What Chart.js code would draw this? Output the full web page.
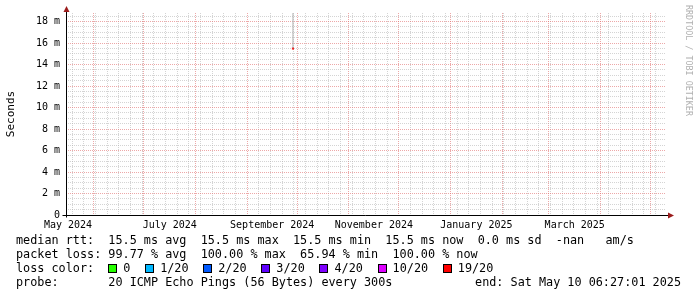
<!DOCTYPE html>
<html>
<head>
<meta charset="utf-8">
<script src="https://cdn.jsdelivr.net/npm/chart.js@4.4.1/dist/chart.umd.min.js"></script>
<style>
  html, body { margin: 0; padding: 0; background: #ffffff; }
  #c { display: block; }
</style>
</head>
<body>
<canvas id="c" width="697" height="297"></canvas>
<script>
// ---------------- data ----------------
const graphEndISO = '2025-05-10T06:27:01Z';
const spanDays = 360;
const monthLabels = ['May 2024', 'July 2024', 'September 2024', 'November 2024', 'January 2025', 'March 2025'];
const sampleTimes = ['2024-09-28T11:00:00Z'];
const medianRtt = [15.5];          // ms
const pingLow = [15.5];            // ms (smoke bottom)
const pingHigh = [18.8];           // ms (smoke top)
const sampleLoss = [19];           // lost pings of 20
const yMaxMs = 18.8;
const yLabelStep = 2;
const yMinorStep = 0.5;
const lossLabels = ['0', '1/20', '2/20', '3/20', '4/20', '10/20', '19/20'];
const lossThresholds = [0, 1, 2, 3, 4, 10, 19];
const lossColors = ['#26ff00', '#00b8ff', '#0059ff', '#5e00ff', '#7e00ff', '#dd00ff', '#ff0000'];
const rttLine = 'median rtt:  15.5 ms avg  15.5 ms max  15.5 ms min  15.5 ms now  0.0 ms sd  -nan   am/s';
const lossLine = 'packet loss: 99.77 % avg  100.00 % max  65.94 % min  100.00 % now';
const lossColorTitle = 'loss color:';
const probeLine = 'probe:       20 ICMP Echo Pings (56 Bytes) every 300s';
const endLine = 'end: Sat May 10 06:27:01 2025';
const yTitle = 'Seconds';
const watermark = 'RRDTOOL / TOBI OETIKER';

// ---------------- derived ----------------
const DAY = 86400000;
const endTime = Date.parse(graphEndISO);
const startTime = endTime - spanDays * DAY;
const MONTHS = ['January','February','March','April','May','June','July','August','September','October','November','December'];

const xTickMap = new Map();
function addTick(v, prop) {
  const o = xTickMap.get(v) || { value: v };
  Object.assign(o, prop);
  xTickMap.set(v, o);
}
// weekly minor grid (Sundays)
{
  const d = new Date(startTime);
  let s = Date.UTC(d.getUTCFullYear(), d.getUTCMonth(), d.getUTCDate());
  while (s <= startTime || new Date(s).getUTCDay() !== 0) s += DAY;
  for (; s < endTime; s += 7 * DAY) addTick(s, { grid: 'minor' });
}
// month major grid
{
  const d = new Date(startTime);
  let y = d.getUTCFullYear(), m = d.getUTCMonth() + 1;
  for (;;) {
    if (m > 11) { m = 0; y++; }
    const v = Date.UTC(y, m, 1);
    if (v >= endTime) break;
    addTick(v, { grid: 'major' });
    m++;
  }
}
// month labels centered in their month
monthLabels.forEach(lbl => {
  const parts = lbl.split(' ');
  const mi = MONTHS.indexOf(parts[0]);
  const yr = +parts[1];
  const a = Date.UTC(yr, mi, 1), b = Date.UTC(yr, mi + 1, 1);
  const v = (a + b) / 2;
  if (v > startTime && v < endTime) addTick(v, { label: lbl });
});
const xTicks = [...xTickMap.values()].sort((a, b) => a.value - b.value);

const yTicks = [];
for (let v = 0; v <= yMaxMs + 1e-9; v += yMinorStep) yTicks.push(Math.round(v * 100) / 100);

function lossColor(l) {
  let c = lossColors[0];
  lossThresholds.forEach((t, i) => { if (l >= t) c = lossColors[i]; });
  return c;
}

const smokeData = [];
sampleTimes.forEach((t, i) => {
  const x = Date.parse(t);
  smokeData.push({ x: x, y: pingLow[i] }, { x: x, y: pingHigh[i] }, { x: x, y: null });
});
const medianData = sampleTimes.map((t, i) => ({ x: Date.parse(t), y: medianRtt[i] }));
const medianColors = sampleLoss.map(lossColor);

const MAJOR_GRID = 'rgba(225, 110, 110, 0.6)';
const MINOR_GRID = 'rgba(170, 170, 170, 0.5)';
const MONO = '"DejaVu Sans Mono", "Liberation Mono", monospace';

// ---------------- decorations plugin ----------------
const rrdDecor = {
  id: 'rrdDecor',
  beforeDraw(chart) {
    const c = chart.ctx;
    c.save();
    c.fillStyle = '#ffffff';
    c.fillRect(0, 0, chart.width, chart.height);
    c.restore();
  },
  afterDraw(chart) {
    const c = chart.ctx;
    const a = chart.chartArea;
    c.save();
    // axes
    const ax = Math.round(a.left) + 0.5;
    const ay = Math.round(a.bottom) + 0.5;
    c.strokeStyle = '#000000';
    c.lineWidth = 1;
    c.beginPath();
    c.moveTo(ax, ay + 2);
    c.lineTo(ax, a.top - 3);
    c.moveTo(ax - 4, ay);
    c.lineTo(a.right + 3, ay);
    c.stroke();
    // arrows
    c.fillStyle = '#9b1c1c';
    c.beginPath();
    c.moveTo(ax - 3, a.top - 1);
    c.lineTo(ax + 3, a.top - 1);
    c.lineTo(ax, a.top - 7);
    c.closePath();
    c.fill();
    c.beginPath();
    c.moveTo(a.right + 2, ay - 3);
    c.lineTo(a.right + 2, ay + 3);
    c.lineTo(a.right + 8, ay);
    c.closePath();
    c.fill();

    // y title
    c.fillStyle = '#000000';
    c.font = '11px ' + MONO;
    c.textAlign = 'center';
    c.textBaseline = 'middle';
    c.save();
    c.translate(11, (a.top + a.bottom) / 2);
    c.rotate(-Math.PI / 2);
    c.fillText(yTitle, 0, 0);
    c.restore();

    // watermark
    c.save();
    c.fillStyle = '#b0b0b0';
    c.font = '8.4px ' + MONO;
    c.textAlign = 'left';
    c.textBaseline = 'middle';
    c.translate(688, 5);
    c.rotate(Math.PI / 2);
    c.fillText(watermark, 0, 0);
    c.restore();

    // legend
    c.font = '11.8px ' + MONO;
    c.fillStyle = '#000000';
    c.textAlign = 'left';
    c.textBaseline = 'middle';
    const lx = 16;
    const rows = [241, 255, 269, 283];
    const cw = c.measureText('0').width;
    c.fillText(rttLine, lx, rows[0]);
    c.fillText(lossLine, lx, rows[1]);
    c.fillText(lossColorTitle, lx, rows[2]);
    let bx = lx + 13 * cw;
    lossLabels.forEach((lbl, i) => {
      c.fillStyle = lossColors[i];
      c.fillRect(Math.round(bx), rows[2] - 5, 9, 9);
      c.strokeStyle = '#000000';
      c.strokeRect(Math.round(bx) + 0.5, rows[2] - 4.5, 8, 8);
      c.fillStyle = '#000000';
      c.fillText(lbl, bx + 15, rows[2]);
      bx += 15 + lbl.length * cw + 14.7;
    });
    c.fillText(probeLine, lx, rows[3]);
    c.textAlign = 'right';
    c.fillText(endLine, 681, rows[3]);
    c.restore();
  }
};

// ---------------- chart ----------------
new Chart(document.getElementById('c'), {
  type: 'scatter',
  data: {
    datasets: [
      {
        type: 'line',
        data: smokeData,
        borderColor: '#b0b0b0',
        borderWidth: 1,
        pointRadius: 0,
        spanGaps: false,
        fill: false
      },
      {
        type: 'scatter',
        data: medianData,
        pointStyle: 'rect',
        pointRadius: 1.5,
        backgroundColor: medianColors,
        borderWidth: 0
      }
    ]
  },
  options: {
    responsive: false,
    animation: false,
    devicePixelRatio: 1,
    layout: { padding: { left: 0, top: 13, right: 31, bottom: 0 } },
    plugins: { legend: { display: false }, tooltip: { enabled: false }, title: { display: false } },
    scales: {
      x: {
        type: 'linear',
        min: startTime,
        max: endTime,
        afterBuildTicks: sc => { sc.ticks = xTicks.map(t => ({ value: t.value })); },
        afterFit: sc => { sc.height = 82; },
        ticks: {
          autoSkip: false,
          maxRotation: 0,
          minRotation: 0,
          padding: 4,
          color: '#000000',
          font: { family: MONO, size: 10 },
          callback: v => (xTickMap.get(v) || {}).label || ''
        },
        grid: {
          drawTicks: false,
          lineWidth: 1,
          color: ctx => {
            const t = ctx.tick ? xTickMap.get(ctx.tick.value) : null;
            if (!t || !t.grid) return 'rgba(0,0,0,0)';
            return t.grid === 'major' ? MAJOR_GRID : MINOR_GRID;
          }
        },
        border: { display: false, dash: [1, 1] }
      },
      y: {
        type: 'linear',
        min: 0,
        max: yMaxMs,
        afterBuildTicks: sc => { sc.ticks = yTicks.map(v => ({ value: v })); },
        afterFit: sc => { sc.width = 66; },
        ticks: {
          autoSkip: false,
          padding: 6,
          color: '#000000',
          font: { family: MONO, size: 10 },
          callback: v => (Math.abs(v % yLabelStep) < 1e-9 ? (v === 0 ? '0' : v + ' m') : '')
        },
        grid: {
          drawTicks: false,
          lineWidth: 1,
          color: ctx => {
            if (!ctx.tick) return 'rgba(0,0,0,0)';
            return Math.abs(ctx.tick.value % yLabelStep) < 1e-9 ? MAJOR_GRID : MINOR_GRID;
          }
        },
        border: { display: false, dash: [1, 1] }
      }
    }
  },
  plugins: [rrdDecor]
});
</script>
</body>
</html>
